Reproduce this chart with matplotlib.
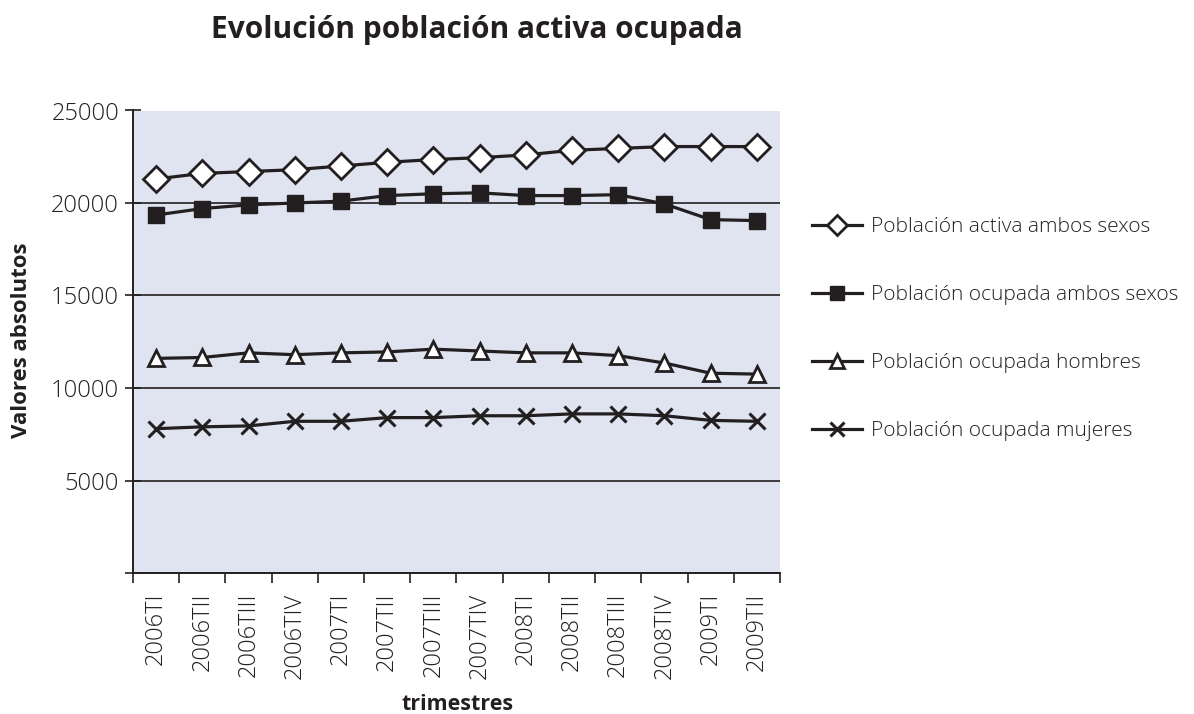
import matplotlib
matplotlib.use('Agg')
from matplotlib import pyplot as plt
from matplotlib.lines import Line2D

plt.rcParams['font.family'] = ['Open Sans', 'DejaVu Sans']

trimestres = ['2006TI', '2006TII', '2006TIII', '2006TIV', '2007TI', '2007TII', '2007TIII',
              '2007TIV', '2008TI', '2008TII', '2008TIII', '2008TIV', '2009TI', '2009TII']

activa_ambos = [21300, 21600, 21700, 21800, 22000, 22200, 22350, 22450, 22600, 22850,
                22950, 23050, 23050, 23050]
ocupada_ambos = [19350, 19700, 19900, 20000, 20100, 20400, 20500, 20550, 20400, 20400,
                 20450, 19950, 19100, 19050]
ocupada_hombres = [11600, 11650, 11900, 11800, 11900, 11950, 12100, 12000, 11900, 11900,
                   11750, 11350, 10800, 10750]
ocupada_mujeres = [7800, 7900, 7950, 8200, 8200, 8400, 8400, 8500, 8500, 8600,
                   8600, 8500, 8250, 8200]

etiquetas = ['Población activa ambos sexos', 'Población ocupada ambos sexos',
             'Población ocupada hombres', 'Población ocupada mujeres']

negro = '#231f20'

fig = plt.figure(figsize=(11.94, 7.14), dpi=100)
ax = fig.add_axes([133/1194, 1-573/714, 647/1194, (573-110.5)/714])
ax.set_facecolor('#dfe4f0')

x = list(range(len(trimestres)))
lw = 2.3
# series
ax.plot(x, activa_ambos, color=negro, lw=lw, marker='D', markersize=13,
        markerfacecolor='white', markeredgecolor=negro, markeredgewidth=2, zorder=4)
ax.plot(x, ocupada_ambos, color=negro, lw=lw, marker='s', markersize=12,
        markerfacecolor=negro, markeredgecolor=negro, zorder=4)
ax.plot(x, ocupada_hombres, color=negro, lw=lw, marker='^', markersize=12,
        markerfacecolor='white', markeredgecolor=negro, markeredgewidth=2, zorder=4)
ax.plot(x, ocupada_mujeres, color=negro, lw=lw, marker='x', markersize=11,
        markeredgewidth=2.2, zorder=4)

ax.set_xlim(-0.5, len(trimestres) - 0.5)
ax.set_ylim(0, 25000)
ax.set_yticks([0, 5000, 10000, 15000, 20000, 25000])
ax.set_yticklabels(['', '5000', '10000', '15000', '20000', '25000'])
ax.yaxis.grid(True, color=negro, lw=1.2)
ax.set_axisbelow(True)

ax.set_xticks(x)
ax.set_xticklabels(trimestres, rotation=90, va='top', ha='center', fontweight='light')
ax.set_xticks([i - 0.5 for i in range(len(trimestres) + 1)], minor=True)
ax.tick_params(axis='x', which='major', length=0, pad=14, labelsize=17, colors=negro)
ax.tick_params(axis='x', which='minor', length=7, width=1.2, direction='out', color=negro)
ax.tick_params(axis='y', length=12, width=1.2, direction='inout', labelsize=17,
               colors=negro, pad=4)
for t in ax.get_yticklabels():
    t.set_fontweight('light')

for s in ['top', 'right']:
    ax.spines[s].set_visible(False)
for s in ['left', 'bottom']:
    ax.spines[s].set_color(negro)
    ax.spines[s].set_linewidth(1.4)

fig.text(477/1194, 1-30/714, 'Evolución población activa ocupada', ha='center', va='center',
         fontsize=21.5, fontweight='bold', color=negro)
fig.text(22/1194, 1-340/714, 'Valores absolutos', rotation=90, ha='center', va='center',
         fontsize=16, fontweight='bold', color=negro)
fig.text(458/1194, 1-705/714, 'trimestres', ha='center', va='center',
         fontsize=15.5, fontweight='bold', color=negro)

handles = [
    Line2D([], [], color=negro, lw=lw, marker='D', markersize=10,
           markerfacecolor='white', markeredgewidth=2),
    Line2D([], [], color=negro, lw=lw, marker='s', markersize=10,
           markerfacecolor=negro),
    Line2D([], [], color=negro, lw=lw, marker='^', markersize=10,
           markerfacecolor='white', markeredgewidth=2),
    Line2D([], [], color=negro, lw=lw, marker='x', markersize=10, markeredgewidth=2.2),
]
leg = fig.legend(handles, etiquetas, loc='upper left', bbox_to_anchor=(804/1194, 1-209/714),
                 frameon=False, fontsize=15, handlelength=2.4, handletextpad=0.4,
                 labelspacing=2.3, borderaxespad=0,
                 prop={'size': 15, 'weight': 'light'})
for t in leg.get_texts():
    t.set_color(negro)

fig.savefig('out.png', dpi=100)
